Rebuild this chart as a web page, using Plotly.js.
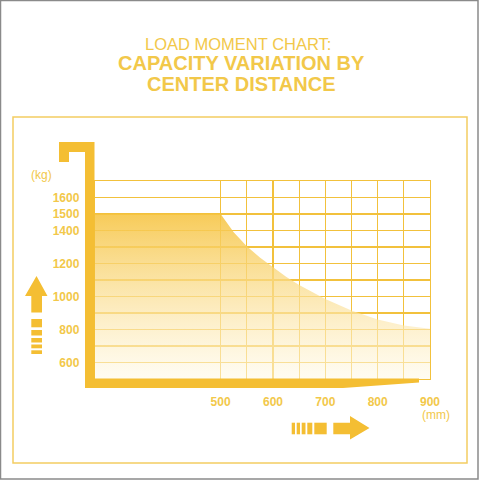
<!DOCTYPE html>
<html>
<head>
<meta charset="utf-8">
<script src="https://cdn.plot.ly/plotly-3.0.1.min.js"></script>
<style>
  html, body { margin: 0; padding: 0; background: white; }
  #graph { width: 480px; height: 480px; }
</style>
</head>
<body>
<div id="graph"></div>
<script>
// center distance (mm) and capacity (kg)
var distance = [260, 500, 525, 550, 575, 600, 625, 650, 675, 700, 750, 800, 850, 900];
var capacity = [1500, 1500, 1390, 1305, 1237, 1180, 1120, 1070, 1025, 985, 915, 860, 825, 805];

var xGridVals = [500, 550, 600, 650, 700, 750, 800, 850, 900];
var xGridText = ['500', '', '600', '', '700', '', '800', '', '900'];
var yGridVals = [600, 700, 800, 900, 1000, 1100, 1200, 1300, 1400, 1500, 1600];
var yGridText = ['600', '', '800', '', '1000', '', '1200', '', '1400', '1500', '1600'];

var gold = '#F4BE33';
var gridCol = '#F2C13C';
var textCol = '#F2C84A';
var fontFam = 'Liberation Sans, Arial, sans-serif';

// plot area in pixels: left 95, right 430, top 181, bottom 379
function px(x) { return (x - 95) / 335; }
function py(y) { return (379 - y) / 198; }

function poly(pts) {
  return 'M' + pts.map(function (p) { return px(p[0]) + ',' + py(p[1]); }).join(' L') + ' Z';
}

var graph = document.getElementById('graph');

var trace = {
  x: distance,
  y: capacity,
  type: 'scatter',
  mode: 'lines',
  line: { width: 0, color: gold },
  fill: 'tozeroy',
  fillgradient: {
    type: 'vertical',
    start: 500,
    stop: 1500,
    colorscale: [[0, 'rgba(255,250,232,0.55)'], [1, 'rgba(246,196,66,0.88)']]
  },
  hoverinfo: 'skip',
  showlegend: false
};

var shapes = [
  // outer thin frame
  { type: 'rect', xref: 'paper', yref: 'paper', layer: 'below',
    x0: px(13), x1: px(467), y0: py(117), y1: py(463),
    line: { color: '#F4CD62', width: 1.5 } },
  // grey picture border
  { type: 'rect', xref: 'paper', yref: 'paper', layer: 'below',
    x0: px(0.5), x1: px(478), y0: py(0.5), y1: py(479),
    line: { color: '#8a8a8a', width: 1.5 } },
  // fork L shape
  { type: 'path', xref: 'paper', yref: 'paper', fillcolor: gold, line: { width: 0 },
    path: poly([[59, 142], [94.5, 142], [94.5, 378.5], [419, 378.5], [419, 382.5], [343, 388], [85, 388], [85, 152], [69, 152], [69, 162], [59, 162]]) },
  // up arrow
  { type: 'path', xref: 'paper', yref: 'paper', fillcolor: gold, line: { width: 0 },
    path: poly([[36.5, 276], [47.5, 296], [42, 296], [42, 312.5], [31.3, 312.5], [31.3, 296], [25, 296]]) },
  // right arrow
  { type: 'path', xref: 'paper', yref: 'paper', fillcolor: gold, line: { width: 0 },
    path: poly([[333.3, 422.7], [350, 422.7], [350, 416], [369.5, 428], [350, 439.5], [350, 434.3], [333.3, 434.3]]) }
];

// striped blocks under the up arrow
[[319, 327.3], [330, 335.5], [338, 342.5], [344.5, 348.3], [350.3, 354]].forEach(function (b) {
  shapes.push({ type: 'rect', xref: 'paper', yref: 'paper', fillcolor: gold, line: { width: 0 },
    x0: px(31.3), x1: px(42), y0: py(b[0]), y1: py(b[1]) });
});
// striped blocks before the right arrow
[[291.7, 295], [296.7, 300], [301.7, 305.5], [307.3, 312.3], [314.3, 326.7]].forEach(function (b) {
  shapes.push({ type: 'rect', xref: 'paper', yref: 'paper', fillcolor: gold, line: { width: 0 },
    x0: px(b[0]), x1: px(b[1]), y0: py(422.7), y1: py(434.3) });
});

function note(text, x, y, size, bold) {
  return { text: text, xref: 'paper', yref: 'paper', x: px(x), y: py(y),
    xanchor: 'center', yanchor: 'middle', showarrow: false, borderpad: 0,
    font: { family: fontFam, size: size, color: textCol, weight: bold ? 'bold' : 'normal' } };
}

var annotations = [
  note('LOAD MOMENT CHART:', 238, 44, 16.5, false),
  note('CAPACITY VARIATION BY', 241, 63, 20, true),
  note('CENTER DISTANCE', 241, 84, 20, true),
  note('(kg)', 41.5, 175, 12, false),
  note('(mm)', 436, 414.5, 12, false)
];

var layout = {
  width: 480,
  height: 480,
  margin: { l: 95, r: 50, t: 181, b: 101 },
  paper_bgcolor: 'white',
  plot_bgcolor: 'white',
  showlegend: false,
  xaxis: {
    range: [260, 900],
    tickmode: 'array',
    tickvals: xGridVals,
    ticktext: xGridText,
    ticks: '',
    showgrid: true,
    gridcolor: gridCol,
    gridwidth: 1.2,
    zeroline: false,
    showline: true,
    mirror: true,
    linecolor: gridCol,
    linewidth: 1.2,
    ticklabelstandoff: 11,
    tickfont: { family: fontFam, size: 12, color: textCol, weight: 'bold' },
    fixedrange: true
  },
  yaxis: {
    range: [500, 1700],
    tickmode: 'array',
    tickvals: yGridVals,
    ticktext: yGridText,
    ticks: '',
    showgrid: true,
    gridcolor: gridCol,
    gridwidth: 1.2,
    zeroline: false,
    showline: true,
    mirror: true,
    linecolor: gridCol,
    linewidth: 1.2,
    ticklabelstandoff: 12,
    tickfont: { family: fontFam, size: 12, color: textCol, weight: 'bold' },
    fixedrange: true
  },
  shapes: shapes,
  annotations: annotations
};

Plotly.newPlot(graph, [trace], layout, { displayModeBar: false, staticPlot: true });
</script>
</body>
</html>
